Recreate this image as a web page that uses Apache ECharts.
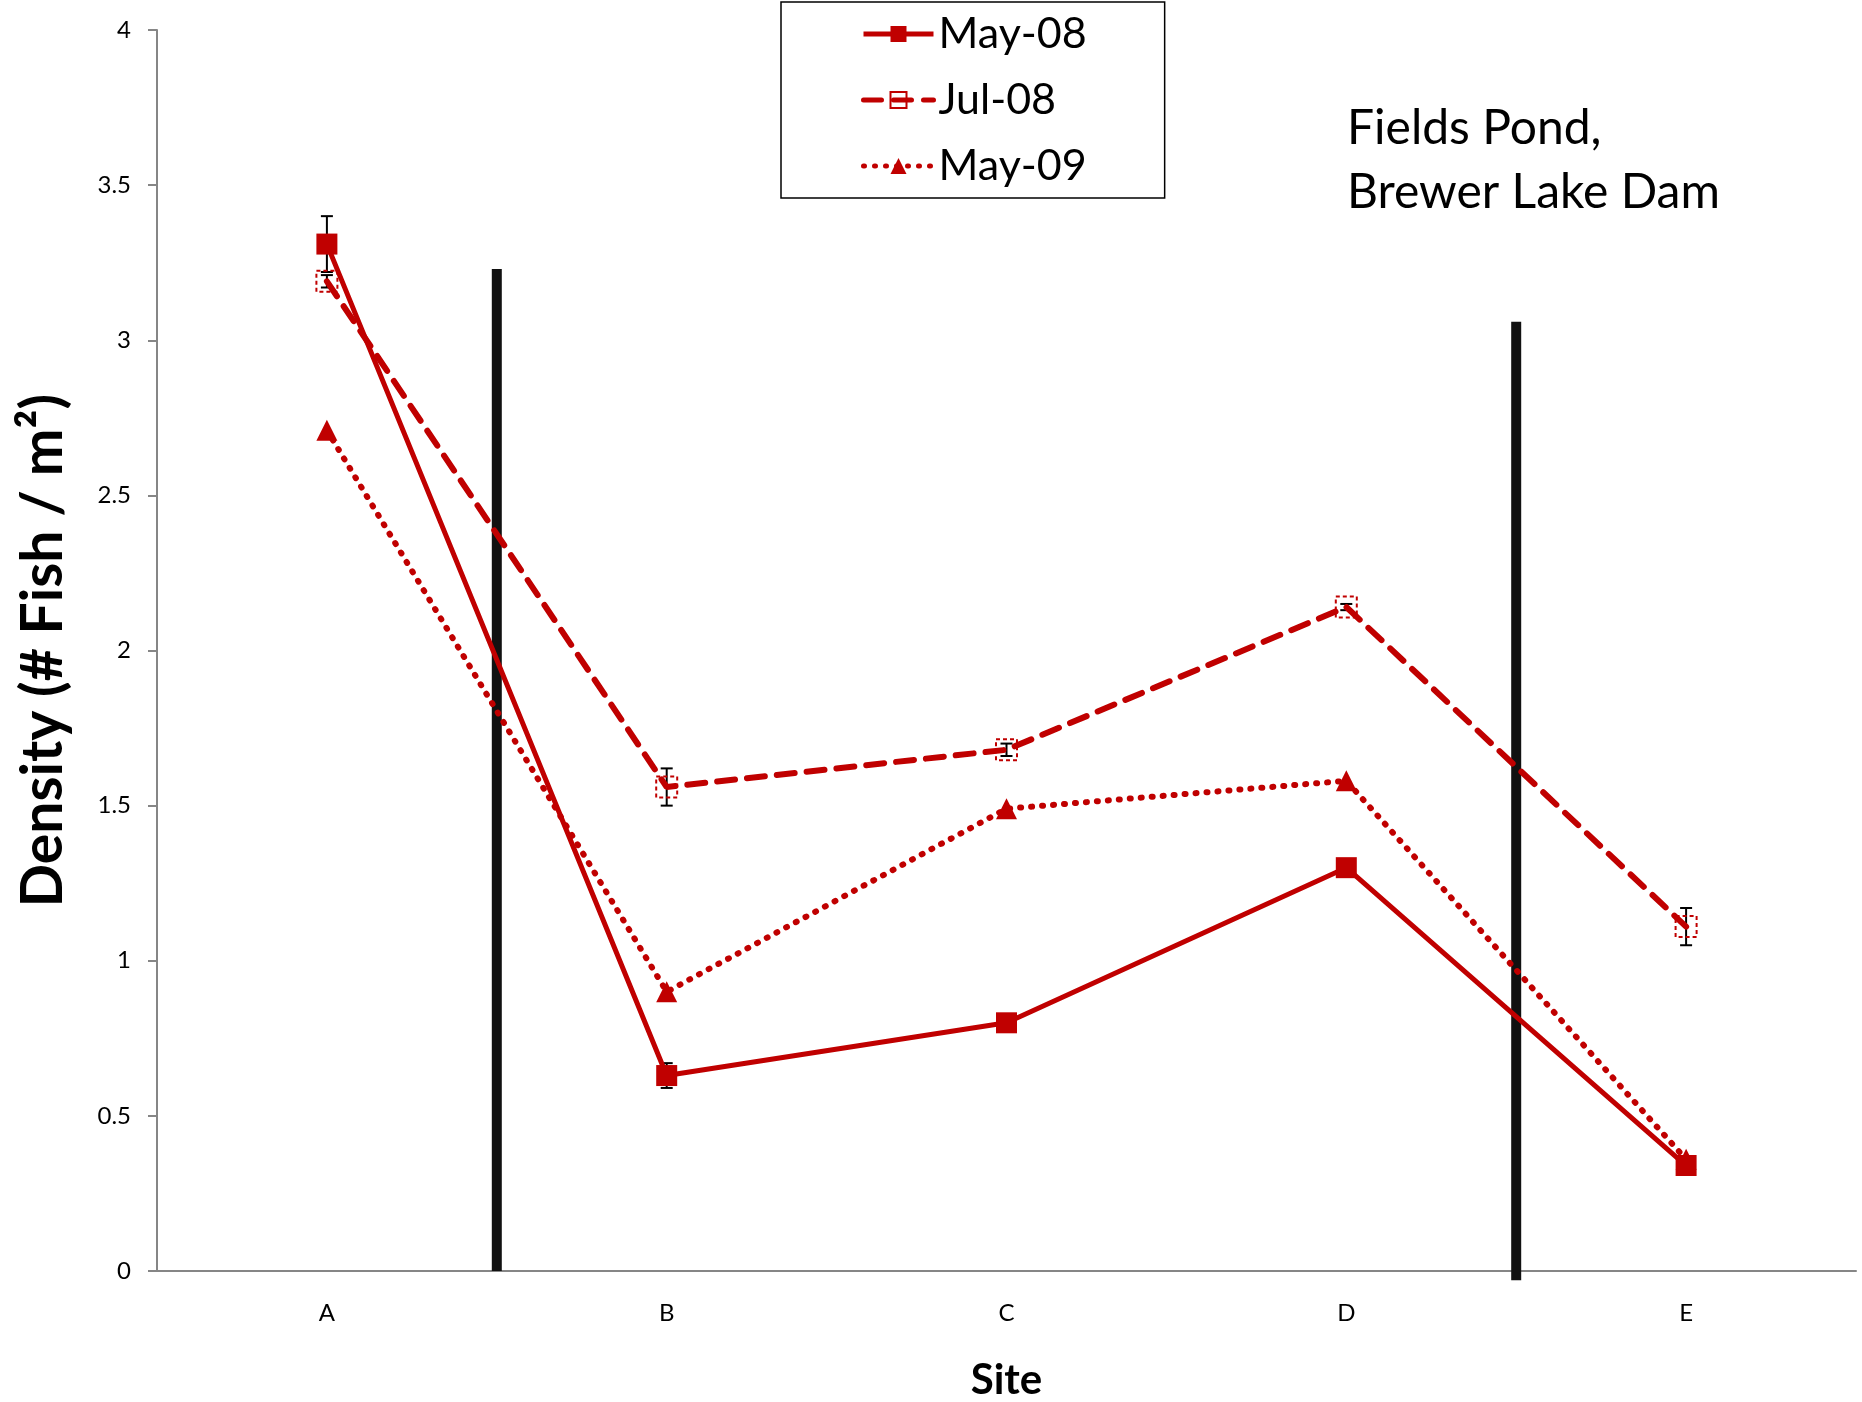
<!DOCTYPE html>
<html>
<head>
<meta charset="utf-8">
<script src="https://cdn.jsdelivr.net/npm/echarts@6/dist/echarts.min.js"></script>
<style>
  html, body { margin: 0; padding: 0; background: #fff; }
  #chartDiv { width: 1862px; height: 1402px; }
</style>
</head>
<body>
<div id="chartDiv"></div>
<script>
// sites along the stream
var sites = ['A', 'B', 'C', 'D', 'E'];
var yTicks = [0, 0.5, 1, 1.5, 2, 2.5, 3, 3.5, 4];

// mean density (# fish / m2)
var may08 = [3.31, 0.63, 0.80, 1.30, 0.34];
var jul08 = [3.19, 1.56, 1.68, 2.14, 1.11];
var may09 = [2.71, 0.90, 1.49, 1.58, 0.36];

// error bar half widths (0 = none shown)
var may08Err = [0.09, 0.04, 0, 0, 0];
var jul08Err = [0.02, 0.06, 0.02, 0.01, 0.06];

// thick black dividers between site groups (x in category units)
var dividerX = [1, 4];
var dividerTop = [3.23, 3.06];
var dividerBottom = [0, -0.03];

var red = '#c00000';
var font = 'Lato, "Open Sans", sans-serif';

var myChart = echarts.init(document.getElementById('chartDiv'));

function errData(vals, errs) {
    var out = [];
    for (var i in vals) {
        if (errs[i] > 0) out.push([+i, vals[i] - errs[i], vals[i] + errs[i]]);
    }
    return out;
}

function renderErr(params, api) {
    var x = api.value(0);
    var lo = api.coord([x, api.value(1)]);
    var hi = api.coord([x, api.value(2)]);
    var w = 6;
    var st = { stroke: '#000', lineWidth: 2 };
    return {
        type: 'group',
        children: [
            { type: 'line', shape: { x1: lo[0], y1: lo[1], x2: hi[0], y2: hi[1] }, style: st },
            { type: 'line', shape: { x1: lo[0] - w, y1: lo[1], x2: lo[0] + w, y2: lo[1] }, style: st },
            { type: 'line', shape: { x1: hi[0] - w, y1: hi[1], x2: hi[0] + w, y2: hi[1] }, style: st }
        ]
    };
}

var dividerSeries = dividerX.map(function (x, i) {
    return {
        type: 'line',
        xAxisIndex: 1,
        data: [[x, dividerBottom[i]], [x, dividerTop[i]]],
        symbol: 'none',
        clip: false,
        silent: true,
        z: 1,
        lineStyle: { color: '#111', width: 10, cap: 'butt' }
    };
});

var option = {
    backgroundColor: '#fff',
    animation: false,
    grid: { left: 157, right: 6, top: 30, bottom: 131, outerBoundsMode: 'none', containLabel: false },
    legend: {
        data: ['May-08', 'Jul-08', 'May-09'],
        orient: 'vertical',
        left: 781,
        top: 2,
        padding: [10, 78, 10, 80],
        itemWidth: 70,
        itemHeight: 20,
        itemGap: 22,
        borderColor: '#000',
        borderWidth: 1.5,
        backgroundColor: '#fff',
        lineStyle: { width: 5 },
        textStyle: { fontFamily: font, fontSize: 43, color: '#000', lineHeight: 44 }
    },
    graphic: [{
        type: 'text',
        left: 1347,
        top: 97,
        style: {
            text: 'Fields Pond,\nBrewer Lake Dam',
            font: '48px ' + font,
            lineHeight: 64,
            fill: '#000'
        }
    }],
    xAxis: [{
        type: 'category',
        data: sites,
        boundaryGap: true,
        name: 'Site',
        nameLocation: 'middle',
        nameGap: 88,
        nameTextStyle: { fontFamily: font, fontSize: 42, fontWeight: 'bold', color: '#000' },
        axisLine: { lineStyle: { color: '#868686', width: 2 } },
        axisTick: { length: 9, lineStyle: { color: '#868686', width: 2 } },
        axisLabel: { margin: 30, fontFamily: font, fontSize: 24, color: '#000' },
        splitLine: { show: false }
    }, {
        type: 'value',
        min: 0,
        max: 5,
        show: false
    }],
    yAxis: {
        type: 'value',
        min: yTicks[0],
        max: yTicks[yTicks.length - 1],
        interval: 0.5,
        name: 'Density (# Fish / m²)',
        nameLocation: 'middle',
        nameRotate: 90,
        nameGap: 85,
        nameTextStyle: { fontFamily: font, fontSize: 57, fontWeight: 'bold', color: '#000' },
        axisLine: { show: true, lineStyle: { color: '#868686', width: 2 } },
        axisTick: { show: true, length: 9, lineStyle: { color: '#868686', width: 2 } },
        axisLabel: { margin: 26, fontFamily: font, fontSize: 24, color: '#000' },
        splitLine: { show: false }
    },
    series: [{
        name: 'May-08',
        type: 'line',
        data: may08,
        symbol: 'rect',
        symbolSize: 21,
        z: 5,
        itemStyle: { color: red },
        lineStyle: { color: red, width: 5 }
    }, {
        name: 'Jul-08',
        type: 'line',
        data: jul08,
        symbol: 'rect',
        symbolSize: 21,
        z: 4,
        itemStyle: { color: 'rgba(255,255,255,0)', borderColor: red, borderWidth: 2, borderType: [4, 3] },
        lineStyle: { color: red, width: 6, type: [18, 12], cap: 'round' }
    }, {
        name: 'May-09',
        type: 'line',
        data: may09,
        symbol: 'triangle',
        symbolSize: 21,
        z: 4,
        itemStyle: { color: red },
        lineStyle: { color: red, width: 6, type: [1, 10], cap: 'round' }
    }, {
        type: 'custom',
        renderItem: renderErr,
        data: errData(may08, may08Err),
        z: 3,
        silent: true
    }, {
        type: 'custom',
        renderItem: renderErr,
        data: errData(jul08, jul08Err),
        z: 3,
        silent: true
    }].concat(dividerSeries)
};

myChart.setOption(option);
</script>
</body>
</html>
